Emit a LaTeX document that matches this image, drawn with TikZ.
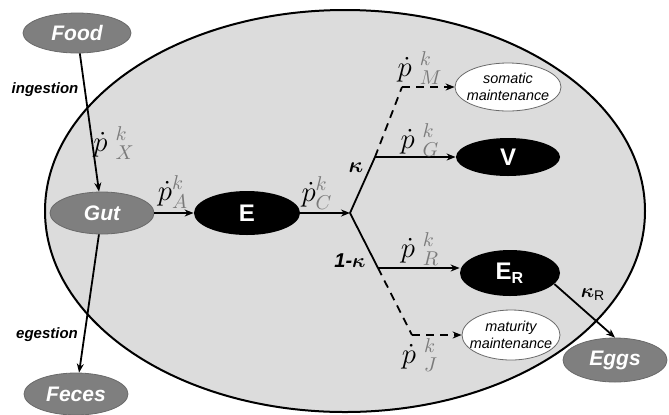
\documentclass[tikz,border=0pt]{standalone}
\usepackage{amsmath}
\usepackage{fontspec}
\setmainfont{Liberation Sans}
\usetikzlibrary{arrows.meta,shapes.geometric,calc}
\definecolor{BodyFill}{HTML}{DCDCDC}
\definecolor{EnvFill}{HTML}{7F7F7F}
\definecolor{EnvStroke}{HTML}{6A6A6A}
\definecolor{RateGray}{HTML}{7A7A7A}
\newcommand{\rate}[1]{$\dot{p}\hspace{4pt}{}^{\textcolor{RateGray}{k}}_{\textcolor{RateGray}{#1}}$}
\newcommand{\ratetight}[1]{$\dot{p}^{\textcolor{RateGray}{k}}_{\textcolor{RateGray}{#1}}$}

\begin{document}
\begin{tikzpicture}[x=0.5pt, y=-0.5pt,
  every node/.style={font=\fontsize{10}{12}\selectfont},
  envblob/.style={ellipse, draw=EnvStroke, fill=EnvFill, text=white, font=\fontsize{10.5}{12}\selectfont\bfseries\itshape, inner sep=1pt},
  poolblob/.style={ellipse, fill=black, text=white, font=\fontsize{12}{14}\selectfont\bfseries, inner sep=1pt},
  sinkblob/.style={ellipse, draw=EnvStroke, fill=white, align=center, font=\fontsize{7.2}{8.4}\selectfont\itshape, inner xsep=-6pt, inner ysep=0pt},
  ratelbl/.style={font=\fontsize{14}{16}\selectfont, inner sep=0pt},
  flowlbl/.style={font=\fontsize{7.5}{9}\selectfont\bfseries\itshape, inner sep=0pt},
  flow/.style={-{Stealth[length=4.5pt,width=3.5pt]}, line width=0.9pt},
  loss/.style={line width=0.9pt, dash pattern=on 4pt off 3pt}]
  \useasboundingbox (0,0) rectangle (669,414);

  % organism
  \node[ellipse, draw, line width=1pt, fill=BodyFill, minimum width=300pt, minimum height=201pt] (body) at (345,211) {};

  % environment
  \node[envblob, minimum width=54pt, minimum height=20pt] (food) at (77,33) {Food};
  \node[envblob, minimum width=52pt, minimum height=21pt] (gut) at (102,213) {Gut};
  \node[envblob, minimum width=52pt, minimum height=21pt] (feces) at (76,394) {Feces};
  \node[envblob, minimum width=52pt, minimum height=22pt] (eggs) at (615,360) {Eggs};

  % pools
  \node[poolblob, minimum width=53pt, minimum height=22pt] (E) at (247,213) {E};
  \node[poolblob, minimum width=52pt, minimum height=19pt] (V) at (508,157) {V};
  \node[poolblob, minimum width=50pt, minimum height=23pt] (ER) at (510,273) {E\textsubscript{R}};

  % maintenance
  \node[sinkblob, minimum width=53pt, minimum height=24pt] (soma) at (508,87) {somatic\\maintenance};
  \node[sinkblob, minimum width=49pt, minimum height=25pt] (matu) at (511,335) {maturity\\maintenance};

  \coordinate (split) at (350,213);
  \coordinate (kup) at (375,157);
  \coordinate (mup) at (402,87);
  \coordinate (kdown) at (378,268);
  \coordinate (mdown) at (412,335);

  \draw[flow] (food) -- (gut);
  \draw[flow] (gut) -- (feces);
  \draw[flow] (gut) -- (E);
  \draw[flow] (E) -- (split);
  \draw[line width=0.9pt] (split) -- (kup);
  \draw[line width=0.9pt] (split) -- (kdown);
  \draw[flow] (kup) -- (V);
  \draw[flow] (kdown) -- (kdown -| ER.west);
  \draw[loss] (kup) -- (mup);
  \draw[loss, -{Stealth[length=4.5pt,width=3.5pt]}] (mup) -- (soma);
  \draw[loss] (kdown) -- (mdown);
  \draw[loss, -{Stealth[length=4.5pt,width=3.5pt]}] (mdown) -- (matu);
  \draw[flow] (ER.-14) -- (eggs.north);

  % labels
  \node[flowlbl] (ingest) at (45,90) {ingestion};
  \node[flowlbl] (egest) at (47,335) {egestion};
  \node[ratelbl] (px) at (114,143) {\rate{X}};
  \node[ratelbl] (pa) at (173,192) {\ratetight{A}};
  \node[ratelbl] (pc) at (317,193) {\ratetight{C}};
  \node[ratelbl] (pm) at (420,68) {\rate{M}};
  \node[ratelbl] (pg) at (420,140) {\rate{G}};
  \node[ratelbl] (pr) at (420,249) {\rate{R}};
  \node[ratelbl] (pj) at (420,355) {\rate{J}};
  \node[font=\fontsize{11}{13}\selectfont] (kap) at (356,168) {$\boldsymbol{\kappa}$};
  \node[font=\fontsize{10}{12}\selectfont\bfseries\itshape] (onekap) at (350,261) {1-$\boldsymbol{\kappa}$};
  \node[font=\fontsize{10}{12}\selectfont] (kapr) at (593,295) {$\boldsymbol{\kappa}$\textsubscript{R}};
\end{tikzpicture}
\end{document}
